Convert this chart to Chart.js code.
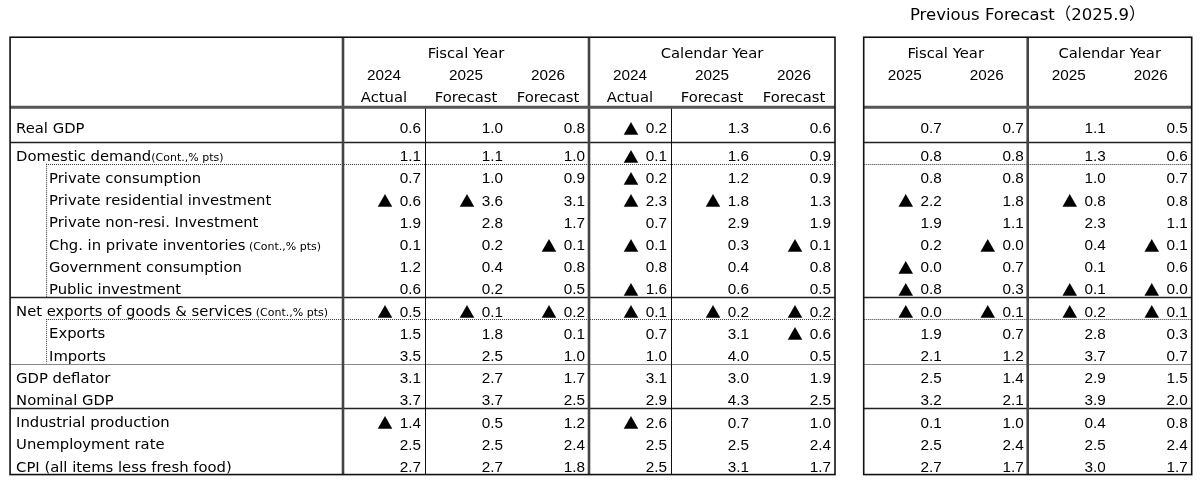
<!DOCTYPE html>
<html>
<head>
<meta charset="utf-8">
<script src="https://cdn.jsdelivr.net/npm/chart.js@4.4.1/dist/chart.umd.min.js"></script>
<style>
  body { margin: 0; background: #fff; }
</style>
</head>
<body>
<canvas id="table" width="1200" height="480"></canvas>
<script>
// rows of the outlook table
const rowLabels = [
  'Real GDP', 'Domestic demand', 'Private consumption', 'Private residential investment',
  'Private non-resi. Investment', 'Chg. in private inventories', 'Government consumption',
  'Public investment', 'Net exports of goods & services', 'Exports', 'Imports',
  'GDP deflator', 'Nominal GDP', 'Industrial production', 'Unemployment rate',
  'CPI (all items less fresh food)'
];
const rowUnits = ['', '(Cont.,% pts)', '', '', '', ' (Cont.,% pts)', '', '', ' (Cont.,% pts)', '', '', '', '', '', '', ''];
const indentRows = [2, 3, 4, 5, 6, 7, 9, 10];

// column headers
const title = 'Previous Forecast（2025.9）';
const groupLabels = ['Fiscal Year', 'Calendar Year', 'Fiscal Year', 'Calendar Year'];
const groupSizes = [3, 3, 2, 2];
const colYears = ['2024', '2025', '2026', '2024', '2025', '2026', '2025', '2026', '2025', '2026'];
const colStatus = ['Actual', 'Forecast', 'Forecast', 'Actual', 'Forecast', 'Forecast', '', '', '', ''];

// values (% / % pts), negative shown with ▲
const fy2024 = [0.6, 1.1, 0.7, -0.6, 1.9, 0.1, 1.2, 0.6, -0.5, 1.5, 3.5, 3.1, 3.7, -1.4, 2.5, 2.7];
const fy2025 = [1.0, 1.1, 1.0, -3.6, 2.8, 0.2, 0.4, 0.2, -0.1, 1.8, 2.5, 2.7, 3.7, 0.5, 2.5, 2.7];
const fy2026 = [0.8, 1.0, 0.9, 3.1, 1.7, -0.1, 0.8, 0.5, -0.2, 0.1, 1.0, 1.7, 2.5, 1.2, 2.4, 1.8];
const cy2024 = [-0.2, -0.1, -0.2, -2.3, 0.7, -0.1, 0.8, -1.6, -0.1, 0.7, 1.0, 3.1, 2.9, -2.6, 2.5, 2.5];
const cy2025 = [1.3, 1.6, 1.2, -1.8, 2.9, 0.3, 0.4, 0.6, -0.2, 3.1, 4.0, 3.0, 4.3, 0.7, 2.5, 3.1];
const cy2026 = [0.6, 0.9, 0.9, 1.3, 1.9, -0.1, 0.8, 0.5, -0.2, -0.6, 0.5, 1.9, 2.5, 1.0, 2.4, 1.7];
const prevFy2025 = [0.7, 0.8, 0.8, -2.2, 1.9, 0.2, -0.0, -0.8, -0.0, 1.9, 2.1, 2.5, 3.2, 0.1, 2.5, 2.7];
const prevFy2026 = [0.7, 0.8, 0.8, 1.8, 1.1, -0.0, 0.7, 0.3, -0.1, 0.7, 1.2, 1.4, 2.1, 1.0, 2.4, 1.7];
const prevCy2025 = [1.1, 1.3, 1.0, -0.8, 2.3, 0.4, 0.1, -0.1, -0.2, 2.8, 3.7, 2.9, 3.9, 0.4, 2.5, 3.0];
const prevCy2026 = [0.5, 0.6, 0.7, 0.8, 1.1, -0.1, 0.6, -0.0, -0.1, 0.3, 0.7, 1.5, 2.0, 0.8, 2.4, 1.7];

const columns = [fy2024, fy2025, fy2026, cy2024, cy2025, cy2026, prevFy2025, prevFy2026, prevCy2025, prevCy2026];

// layout: x in column units, y in row units
const COL_W = 82, COL0 = 384;
const ROW_H = 22.2, ROW1 = 156;
const PREV_GAP = 0.35;
const LABEL_LEFT = -4.56;
const HEADER_TOP = -4.35, HEADER_BOTTOM = -1.2;
const TEXT_DY = 1;

const colPos = i => (i < 6 ? i : i + PREV_GAP);
const rowTop = i => (i === 0 ? HEADER_BOTTOM : i - 0.65);
const rowPos = i => (i === 0 ? rowTop(1) - 0.62 : i);

const separators = [
  { after: 0, style: 'solid' }, { after: 1, style: 'dotted' }, { after: 7, style: 'solid' },
  { after: 8, style: 'dotted' }, { after: 10, style: 'thin' }, { after: 12, style: 'solid' }
];

const TEXT_FONT = "14.8px 'DejaVu Sans', 'Noto Sans CJK JP', sans-serif";
const UNIT_FONT = "11px 'DejaVu Sans', sans-serif";
const NUM_FONT = "15.3px 'Liberation Sans', Arial, sans-serif";
const TRI_FONT = "15.5px 'Noto Sans CJK JP', 'DejaVu Sans', sans-serif";
const TITLE_FONT = "16.5px 'DejaVu Sans', 'Noto Sans CJK JP', sans-serif";

function line(ctx, x0, y0, x1, y1, w, color, dash) {
  ctx.save();
  ctx.beginPath();
  ctx.lineWidth = w;
  ctx.strokeStyle = color;
  ctx.setLineDash(dash || []);
  ctx.moveTo(x0, y0);
  ctx.lineTo(x1, y1);
  ctx.stroke();
  ctx.restore();
}

const tablePlugin = {
  id: 'outlookTable',
  beforeDatasetsDraw(chart) {
    const { ctx, scales: { x, y } } = chart;
    const px = v => x.getPixelForValue(v);
    const py = v => y.getPixelForValue(v);
    const tables = [
      { l: px(LABEL_LEFT), r: px(5.5), thick: [px(-0.5), px(2.5)], thin: [px(0.5), px(3.5)], indent: true },
      { l: px(colPos(6) - 0.5), r: px(colPos(9) + 0.5), thick: [px(colPos(7) + 0.5)], thin: [], indent: false }
    ];
    const top = py(HEADER_TOP), bottom = py(rowTop(rowLabels.length)), hb = py(HEADER_BOTTOM);
    const indentX = px(LABEL_LEFT) + 36;

    tables.forEach(t => {
      separators.forEach(s => {
        const yy = Math.round(py(rowTop(s.after + 1))) + 0.5;
        if (s.style === 'solid') line(ctx, t.l, yy, t.r, yy, 1.6, '#222');
        else if (s.style === 'thin') line(ctx, t.l, yy, t.r, yy, 1, '#888');
        else line(ctx, t.indent ? indentX : t.l, yy, t.r, yy, 1, '#333', [1, 1]);
      });
      t.thin.forEach(xx => line(ctx, Math.round(xx) + 0.5, hb, Math.round(xx) + 0.5, bottom, 1, '#111'));
      t.thick.forEach(xx => line(ctx, xx, top, xx, bottom, 2.6, '#444'));
      line(ctx, t.l, hb, t.r, hb, 3, '#555');
      ctx.save();
      ctx.lineWidth = 1.6;
      ctx.strokeStyle = '#111';
      ctx.strokeRect(t.l, top, t.r - t.l, bottom - top);
      ctx.restore();
    });

    // dotted guide for indented sub-items
    [[2, 8], [9, 11]].forEach(([a, b]) => {
      line(ctx, indentX + 0.5, py(rowTop(a)), indentX + 0.5, py(rowTop(b)), 1, '#333', [1, 1]);
    });
  },
  afterDatasetsDraw(chart) {
    const { ctx, scales: { x, y } } = chart;
    const px = v => x.getPixelForValue(v);
    const py = v => y.getPixelForValue(v) + TEXT_DY;
    ctx.save();
    ctx.fillStyle = '#000';
    ctx.textBaseline = 'middle';

    // title
    ctx.font = TITLE_FONT;
    ctx.textAlign = 'center';
    ctx.fillText(title, px(colPos(7) + 0.5), py(-5.35));

    // header
    let start = 0;
    groupLabels.forEach((g, gi) => {
      const mid = (colPos(start) + colPos(start + groupSizes[gi] - 1)) / 2;
      ctx.font = TEXT_FONT;
      ctx.fillText(g, px(mid), py(-3.65));
      start += groupSizes[gi];
    });
    colYears.forEach((yr, i) => {
      ctx.font = NUM_FONT;
      ctx.fillText(yr, px(colPos(i)), py(-2.65));
      ctx.font = TEXT_FONT;
      if (colStatus[i]) ctx.fillText(colStatus[i], px(colPos(i)), py(-1.65));
    });

    // row labels
    ctx.textAlign = 'left';
    rowLabels.forEach((lab, i) => {
      const lx = px(LABEL_LEFT) + (indentRows.includes(i) ? 39 : 6);
      const ly = py(rowPos(i));
      ctx.font = TEXT_FONT;
      ctx.fillText(lab, lx, ly);
      if (rowUnits[i]) {
        const w = ctx.measureText(lab).width;
        ctx.font = UNIT_FONT;
        ctx.fillText(rowUnits[i], lx + w, ly + 1);
      }
    });

    // cell values at the points placed by the scales
    ctx.textAlign = 'right';
    chart.data.datasets.forEach((ds, d) => {
      const meta = chart.getDatasetMeta(d);
      meta.data.forEach((pt, i) => {
        const v = ds.values[i];
        const neg = v < 0 || Object.is(v, -0);
        const txt = Math.abs(v).toFixed(1);
        const right = px(ds.data[i].x + 0.5) - 4;
        const ty = pt.y + TEXT_DY;
        ctx.font = NUM_FONT;
        ctx.fillText(txt, right, ty);
        if (neg) {
          const w = ctx.measureText(txt).width;
          ctx.font = TRI_FONT;
          ctx.fillText('▲', right - w - 7, ty);
        }
      });
    });
    ctx.restore();
  }
};

new Chart(document.getElementById('table'), {
  type: 'scatter',
  data: {
    datasets: columns.map((vals, c) => ({
      label: colYears[c],
      values: vals,
      data: vals.map((v, r) => ({ x: colPos(c), y: rowPos(r) })),
      pointRadius: 0,
      pointHoverRadius: 0
    }))
  },
  options: {
    responsive: false,
    animation: false,
    devicePixelRatio: 1,
    layout: { padding: 0 },
    events: [],
    plugins: { legend: { display: false }, tooltip: { enabled: false } },
    scales: {
      x: { type: 'linear', display: false, bounds: 'data', min: -COL0 / COL_W, max: (1200 - COL0) / COL_W },
      y: { type: 'linear', display: false, bounds: 'data', reverse: true, min: 1 - ROW1 / ROW_H, max: 1 + (480 - ROW1) / ROW_H }
    }
  },
  plugins: [tablePlugin]
});
</script>
</body>
</html>
